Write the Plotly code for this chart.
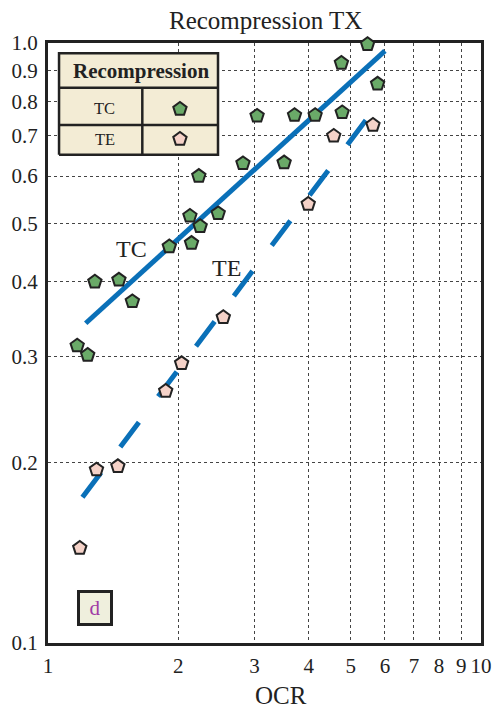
import numpy as np
import plotly.graph_objects as go

# --- data -------------------------------------------------------------
tc_ocr = [1.168, 1.235, 1.283, 1.458, 1.566, 1.906, 2.127, 2.145, 2.246, 2.472,
          2.23, 2.82, 3.04, 3.71, 4.14, 3.51, 4.76, 5.47, 5.77, 4.78]
tc_tx = [0.313, 0.302, 0.400, 0.403, 0.371, 0.458, 0.515, 0.464, 0.495, 0.520,
         0.600, 0.630, 0.756, 0.758, 0.758, 0.632, 0.926, 0.995, 0.855, 0.766]

te_ocr = [1.184, 1.294, 1.45, 1.87, 2.035, 2.54, 3.99, 4.57, 5.63]
te_tx = [0.144, 0.1945, 0.197, 0.263, 0.2925, 0.349, 0.539, 0.700, 0.730]

# power-law fits  TX = a * OCR^b, drawn over [x_start, x_end]
tc_fit = dict(a=0.299, b=0.657, x_start=1.222, x_end=6.0)
te_fit = dict(a=0.1467, b=0.96, x_start=1.201, x_end=5.42)

x_tick_vals = [1, 2, 3, 4, 5, 6, 7, 8, 9, 10]
x_tick_text = ["1", "2", "3", "4", "5", "6", "7", "8", "9", "10"]
y_tick_vals = [0.1, 0.2, 0.3, 0.4, 0.5, 0.6, 0.7, 0.8, 0.9, 1.0]
y_tick_text = ["0.1", "0.2", "0.3", "0.4", "0.5", "0.6", "0.7", "0.8", "0.9", "1.0"]

# --- style ------------------------------------------------------------
SERIF = "Liberation Serif"
INK = "#222222"
BLUE = "#0a70b8"
GREEN = "#6aaa68"
PINK = "#f5d2c8"
TABLE_BG = "#f3ecd5"


def fit_curve(p, n=60):
    xs = np.geomspace(p["x_start"], p["x_end"], n)
    return xs, p["a"] * xs ** p["b"]


fig = go.Figure()

xs, ys = fit_curve(tc_fit)
fig.add_trace(go.Scatter(x=xs, y=ys, mode="lines",
                         line=dict(color=BLUE, width=5), hoverinfo="skip"))
xs, ys = fit_curve(te_fit)
fig.add_trace(go.Scatter(x=xs, y=ys, mode="lines",
                         line=dict(color=BLUE, width=5, dash="31px,32px"),
                         hoverinfo="skip"))

marker_common = dict(symbol="pentagon", size=14, line=dict(color=INK, width=2))
fig.add_trace(go.Scatter(x=tc_ocr, y=tc_tx, mode="markers", name="TC",
                         marker=dict(color=GREEN, **marker_common), cliponaxis=False))
fig.add_trace(go.Scatter(x=te_ocr, y=te_tx, mode="markers", name="TE",
                         marker=dict(color=PINK, **marker_common), cliponaxis=False))

# --- legend table on an overlay [0,1] x [0,1] frame -------------------
tx0, tx1 = 0.0255, 0.3926
ty_bot, ty_top = 0.8138, 0.9828
ty_head, ty_row = 0.9255, 0.8633
tx_col = 0.2178
fig.add_trace(go.Scatter(
    x=[tx0, tx1, tx1, tx0, tx0], y=[ty_bot, ty_bot, ty_top, ty_top, ty_bot],
    xaxis="x2", yaxis="y2", mode="lines", fill="toself", fillcolor=TABLE_BG,
    line=dict(color=INK, width=2.5), hoverinfo="skip"))
fig.add_trace(go.Scatter(
    x=[tx0, tx1, None, tx0, tx1, None, tx_col, tx_col],
    y=[ty_head, ty_head, None, ty_row, ty_row, None, ty_bot, ty_head],
    xaxis="x2", yaxis="y2", mode="lines",
    line=dict(color=INK, width=2.5), hoverinfo="skip"))
fig.add_trace(go.Scatter(x=[0.3047], y=[0.89], xaxis="x2", yaxis="y2",
                         mode="markers", marker=dict(color=GREEN, **marker_common)))
fig.add_trace(go.Scatter(x=[0.3047], y=[0.84], xaxis="x2", yaxis="y2",
                         mode="markers", marker=dict(color=PINK, **marker_common)))

annotations = [
    dict(text="Recompression", x=0.214, y=0.954, font=dict(size=21, color=INK,
         family=SERIF, weight="bold")),
    dict(text="TC", x=0.1306, y=0.89, font=dict(size=16.5, color=INK, family=SERIF)),
    dict(text="TE", x=0.1306, y=0.84, font=dict(size=16.5, color=INK, family=SERIF)),
    dict(text="TC", x=0.1937, y=0.657, font=dict(size=24, color=INK, family=SERIF)),
    dict(text="TE", x=0.412, y=0.625, font=dict(size=24, color=INK, family=SERIF)),
    dict(text="d", x=0.1074, y=0.0588, font=dict(size=21, color="#a03ca6", family=SERIF),
         bgcolor="#efefdd", bordercolor=INK, borderwidth=3, borderpad=0,
         width=30, height=30),
    dict(text="Recompression TX", x=0.502, y=1.0367, font=dict(size=25, color=INK,
         family=SERIF)),
    dict(text="OCR", x=0.537, y=-0.0875, font=dict(size=25, color=INK, family=SERIF)),
]
for a in annotations:
    a.update(xref="paper", yref="paper", showarrow=False,
             xanchor="center", yanchor="middle")

axis_common = dict(
    showline=True, linecolor=INK, linewidth=3, mirror=True,
    showgrid=True, gridcolor="#444444", gridwidth=1.3, griddash="3px,3px",
    ticks="", zeroline=False, layer="below traces",
    tickfont=dict(family=SERIF, size=21, color=INK),
)

fig.update_layout(
    width=502, height=708,
    margin=dict(l=48, r=10, t=43, b=65),
    paper_bgcolor="white", plot_bgcolor="white",
    showlegend=False,
    xaxis=dict(type="log", range=[0, 1], tickvals=x_tick_vals, ticktext=x_tick_text,
               ticklabelstandoff=2, **axis_common),
    yaxis=dict(type="log", range=[-1, 0], tickvals=y_tick_vals, ticktext=y_tick_text,
               ticklabelstandoff=3, **axis_common),
    xaxis2=dict(overlaying="x", range=[0, 1], visible=False),
    yaxis2=dict(overlaying="y", range=[0, 1], visible=False),
    annotations=annotations,
)

fig.write_html("out.html")
